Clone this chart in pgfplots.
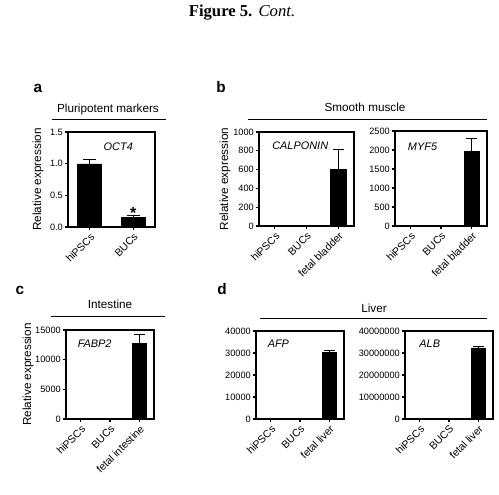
\documentclass[border=0pt]{standalone}
\usepackage{pgfplots}
\pgfplotsset{compat=1.18}
\usepackage{fontspec}
\setmainfont{Liberation Sans}
\newfontfamily\timesfont{Liberation Serif}
\tikzset{gene/.style={font=\fontsize{8.2}{9}\selectfont\itshape}}
\begin{document}
\begin{tikzpicture}[x=0.75pt,y=-0.75pt]
\path[use as bounding box] (0,0) rectangle (499,494);
\pgfplotsset{
  panel/.style={
    scale only axis,
    anchor=south west,
    axis line style={line width=0.9pt},
    ybar, bar width=0.5,
    xmin=-0.5, xmax=2.5,
    ymin=0,
    xtick={0,1,2},
    tick align=outside,
    xtick pos=bottom, ytick pos=left,
    major tick length=2.5pt,
    tick style={line width=0.8pt, black},
    /pgf/number format/assume math mode=true,
    /pgf/number format/fixed, /pgf/number format/1000 sep={},
    scaled y ticks=false,
    yticklabel style={font=\fontsize{6.9}{7}\selectfont, inner sep=1.2pt},
    xticklabel style={font=\fontsize{7.9}{8}\selectfont, rotate=45, anchor=north east, inner sep=1pt},
    ylabel style={font=\fontsize{8.8}{10}\selectfont, at={(rel axis cs:0,0.5)}, anchor=center},
  },
  ebar/.style={fill=black, draw=black, line width=0.6pt,
    error bars/.cd, y dir=plus, y explicit,
    error bar style={line width=0.9pt, black},
    error mark options={rotate=90, mark size=#1, line width=0.9pt, black}},
  ebar/.default=4pt,
}
% coordinates of axis corners
\coordinate (PA) at (68,227);
\coordinate (PB1) at (259,226);
\coordinate (PB2) at (395,226);
\coordinate (PC) at (66,419);
\coordinate (PD1) at (256,419);
\coordinate (PD2) at (405,419);

% figure title
\node[font=\fontsize{12.5}{14}\selectfont] at (242,13) {{\timesfont\bfseries Figure 5.} {\timesfont\itshape Cont.}};

% panel letters
\node[font=\fontsize{11.5}{12}\selectfont\bfseries] at (38,88) {a};
\node[font=\fontsize{11.5}{12}\selectfont\bfseries] at (221,87) {b};
\node[font=\fontsize{11.5}{12}\selectfont\bfseries] at (20,290) {c};
\node[font=\fontsize{11.5}{12}\selectfont\bfseries] at (222,289) {d};

% group titles
\node[font=\fontsize{8.8}{10}\selectfont] at (108,109) {Pluripotent markers};
\draw[line width=0.6pt] (52,119) -- (166,119);
\node[font=\fontsize{8.8}{10}\selectfont] at (365,107) {Smooth muscle};
\draw[line width=0.6pt] (248,119) -- (487,119);
\node[font=\fontsize{8.8}{10}\selectfont] at (110,304) {Intestine};
\draw[line width=0.6pt] (51,316) -- (165,316);
\node[font=\fontsize{8.8}{10}\selectfont] at (374,308) {Liver};
\draw[line width=0.6pt] (260,318) -- (487,318);

% panel a
\begin{axis}[panel, at={(PA)}, width=65.25pt, height=71.25pt,
  xmin=-0.5, xmax=1.5, xtick={0,1}, xticklabels={hiPSCs,BUCs}, bar width=0.55,
  ymax=1.5, ytick={0,0.5,1,1.5},
  yticklabel style={/pgf/number format/.cd, fixed, fixed zerofill, precision=1},
  ylabel={Relative expression}, ylabel style={yshift=22.5pt}]
\addplot[ebar=4.8pt]
  coordinates {(0,0.995) +- (0,0.075) (1,0.145) +- (0,0.035)};
\node[gene, anchor=east] at (rel axis cs:0.8,0.84) {OCT4};
\node[font=\fontsize{12}{12}\selectfont\bfseries, anchor=base] at (axis cs:1,0.135) {*};
\end{axis}

% panel b1
\begin{axis}[panel, at={(PB1)}, width=71.25pt, height=70.5pt,
  xticklabels={hiPSCs,BUCs,fetal bladder},
  ymax=1000, ytick={0,200,400,600,800,1000},
  ylabel={Relative expression}, ylabel style={yshift=25.5pt}]
\addplot[ebar] coordinates {(0,1) +- (0,0) (1,0.5) +- (0,0) (2,605) +- (0,205)};
\node[gene, anchor=west] at (rel axis cs:0.09,0.85) {CALPONIN};
\end{axis}

% panel b2
\begin{axis}[panel, at={(PB2)}, width=69pt, height=71.25pt,
  xticklabels={hiPSCs,BUCs,fetal bladder},
  ymax=2500, ytick={0,500,1000,1500,2000,2500}]
\addplot[ebar] coordinates {(0,1) +- (0,0) (1,0.5) +- (0,0) (2,1965) +- (0,343)};
\node[gene, anchor=west] at (rel axis cs:0.09,0.83) {MYF5};
\end{axis}

% panel c
\begin{axis}[panel, at={(PC)}, width=66pt, height=66.75pt,
  xticklabels={hiPSCs,BUCs,fetal intestine},
  ymax=15000, ytick={0,5000,10000,15000},
  ylabel={Relative expression}, ylabel style={yshift=28.5pt}]
\addplot[ebar] coordinates {(0,1) +- (0,0) (1,2) +- (0,0) (2,12760) +- (0,1510)};
\node[gene, anchor=west] at (rel axis cs:0.08,0.85) {FABP2};
\end{axis}

% panel d1
\begin{axis}[panel, at={(PD1)}, width=66pt, height=66pt,
  xticklabels={hiPSCs,BUCs,fetal liver},
  ymax=40000, ytick={0,10000,20000,30000,40000}]
\addplot[ebar] coordinates {(0,1) +- (0,0) (1,150) +- (0,0) (2,30300) +- (0,850)};
\node[gene, anchor=west] at (rel axis cs:0.08,0.85) {AFP};
\end{axis}

% panel d2
\begin{axis}[panel, at={(PD2)}, width=66pt, height=66pt,
  xticklabels={hiPSCs,BUCS,fetal liver},
  ymax=40000000, ytick={0,10000000,20000000,30000000,40000000}]
\addplot[ebar] coordinates {(0,1) +- (0,0) (1,1) +- (0,0) (2,32300000) +- (0,800000)};
\node[gene, anchor=west] at (rel axis cs:0.11,0.85) {ALB};
\end{axis}
\end{tikzpicture}
\end{document}
